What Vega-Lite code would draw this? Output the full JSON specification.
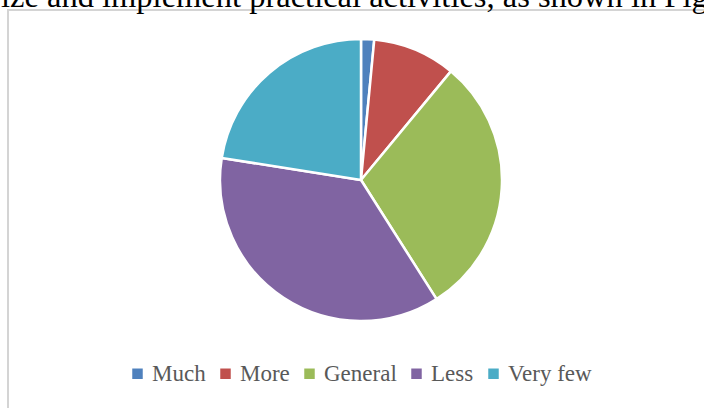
{
  "$schema": "https://vega.github.io/schema/vega-lite/v6.json",
  "autosize": {"type": "none"},
  "width": 706,
  "height": 420,
  "padding": {"left": 8, "top": 10, "right": -10, "bottom": -22},
  "background": "#ffffff",
  "view": {"stroke": "#d4d4d4", "strokeWidth": 2, "fill": "#ffffff"},
  "title": {
    "text": "ize and implement practical activities, as shown in Figure",
    "anchor": "start",
    "frame": "group",
    "font": "Liberation Serif",
    "fontSize": 32.5,
    "fontWeight": "normal",
    "color": "#000000",
    "baseline": "alphabetic",
    "offset": 4,
    "dx": -7,
    "dy": 33
  },
  "data": {
    "values": [
      {"category": "Much", "value": 1.5, "rank": 1},
      {"category": "More", "value": 9.5, "rank": 2},
      {"category": "General", "value": 30, "rank": 3},
      {"category": "Less", "value": 36.5, "rank": 4},
      {"category": "Very few", "value": 22.5, "rank": 5}
    ]
  },
  "mark": {"type": "arc", "radius": 141, "stroke": "#ffffff", "strokeWidth": 2.5, "yOffset": -40},
  "encoding": {
    "theta": {"field": "value", "type": "quantitative", "stack": true},
    "order": {"field": "rank", "type": "quantitative"},
    "color": {
      "field": "category",
      "type": "nominal",
      "sort": ["Much", "More", "General", "Less", "Very few"],
      "scale": {
        "domain": ["Much", "More", "General", "Less", "Very few"],
        "range": ["#4f81bd", "#c0504d", "#9bbb59", "#8064a2", "#4bacc6"]
      },
      "legend": {
        "title": null,
        "orient": "none",
        "direction": "horizontal",
        "legendX": 118,
        "legendY": 352,
        "padding": 0,
        "symbolType": "square",
        "symbolSize": 110,
        "symbolStrokeWidth": 0,
        "labelFont": "Liberation Serif",
        "labelFontSize": 23,
        "labelColor": "#595959",
        "labelOffset": 3,
        "columnPadding": 8,
        "labelLimit": 200,
        "encode": {
          "labels": {
            "update": {
              "font": {"signal": "datum.label === 'Very few' ? 'Liberation Sans' : 'Liberation Serif'"},
              "fontSize": {"signal": "datum.label === 'Very few' ? 22 : 23"}
            }
          }
        }
      }
    }
  }
}
